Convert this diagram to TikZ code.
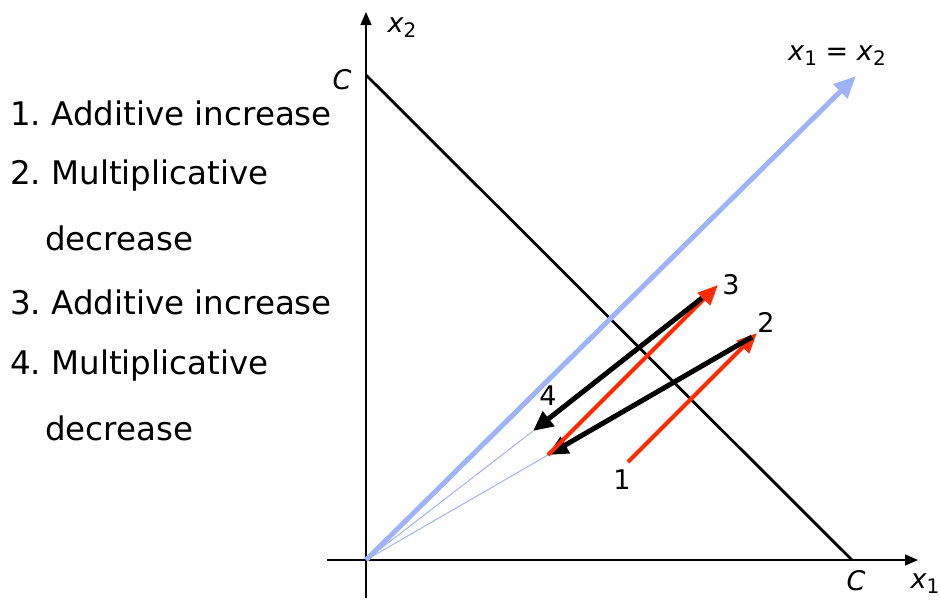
\documentclass[tikz,border=0pt]{standalone}
\usepackage{fontspec}
\setmainfont{DejaVu Sans}
\usetikzlibrary{arrows.meta}
\definecolor{aimdred}{HTML}{FF2A00}
\definecolor{fairblue}{HTML}{9FB3F7}
\newcommand{\xsub}[1]{\textit{x}\raisebox{-0.35ex}{\fontsize{20}{20}\selectfont #1}}
\tikzset{
  axis/.style={line width=1.4pt,-{Triangle[length=13pt,width=11pt]}},
  redarrow/.style={aimdred,line width=4.2pt,-{Triangle[length=20pt,width=17pt]}},
  blackarrow/.style={black,line width=5pt,-{Triangle[length=20pt,width=18pt]}},
  thinblue/.style={fairblue,line width=1pt},
  listtext/.style={anchor=west,font=\fontsize{32.5}{32.5}\selectfont,inner sep=0pt},
  lbl/.style={font=\fontsize{27}{27}\selectfont,inner sep=0pt}
}
\frenchspacing
\begin{document}
\begin{tikzpicture}[x=1pt,y=-1pt]
\useasboundingbox (0,0) rectangle (940,603);
% points
\coordinate (O) at (366,560);
\coordinate (xs) at (327,560);
\coordinate (xe) at (918,560);
\coordinate (ys) at (366,598);
\coordinate (ye) at (366,12);
\coordinate (Cy) at (366,75);
\coordinate (Cx) at (852,560);
\coordinate (F) at (856,76);
\coordinate (p1) at (628,462);
\coordinate (p2) at (757,333);
\coordinate (p2b) at (752,337);
\coordinate (q2) at (548,455);
\coordinate (p3) at (718,285);
\coordinate (p3b) at (702,298);
\coordinate (q4) at (533,431);
% axes
\draw[axis] (xs) -- (xe);
\draw[axis] (ys) -- (ye);
% efficiency line
\draw[line width=2.8pt] (Cy) -- (Cx);
% thin blue rays
\draw[thinblue] (O) -- (q2);
\draw[thinblue] (O) -- (q4);
% fairness line
\draw[fairblue,line width=5pt,-{Triangle[length=22pt,width=19pt]}] (O) -- (F);
% trajectory
\draw[redarrow] (p1) -- (p2);
\draw[blackarrow] (p2b) -- (q2);
\draw[redarrow] (q2) -- (p3);
\draw[blackarrow] (p3b) -- (q4);
% labels
\node[lbl] (l1) at (622,480) {1};
\node[lbl] (l2) at (766,322) {2};
\node[lbl] (l3) at (731,285) {3};
\node[lbl] (l4) at (548,396) {4};
\node[lbl] (cy) at (342,80) {\textit{C}};
\node[lbl] (cx) at (856,581) {\textit{C}};
\node[lbl] (x1) at (925,584) {\xsub{1}};
\node[lbl] (x2) at (402,28) {\xsub{2}};
\node[lbl] (fair) at (837,56) {\xsub{1} = \xsub{2}};
% list
\node[listtext] (t1) at (10,113) {1. Additive increase};
\node[listtext] (t2) at (10,176) {2. Multiplicative};
\node[listtext] (t2b) at (45,238) {decrease};
\node[listtext] (t3) at (10,302) {3. Additive increase};
\node[listtext] (t4) at (10,366) {4. Multiplicative};
\node[listtext] (t4b) at (45,428) {decrease};
\end{tikzpicture}
\end{document}
